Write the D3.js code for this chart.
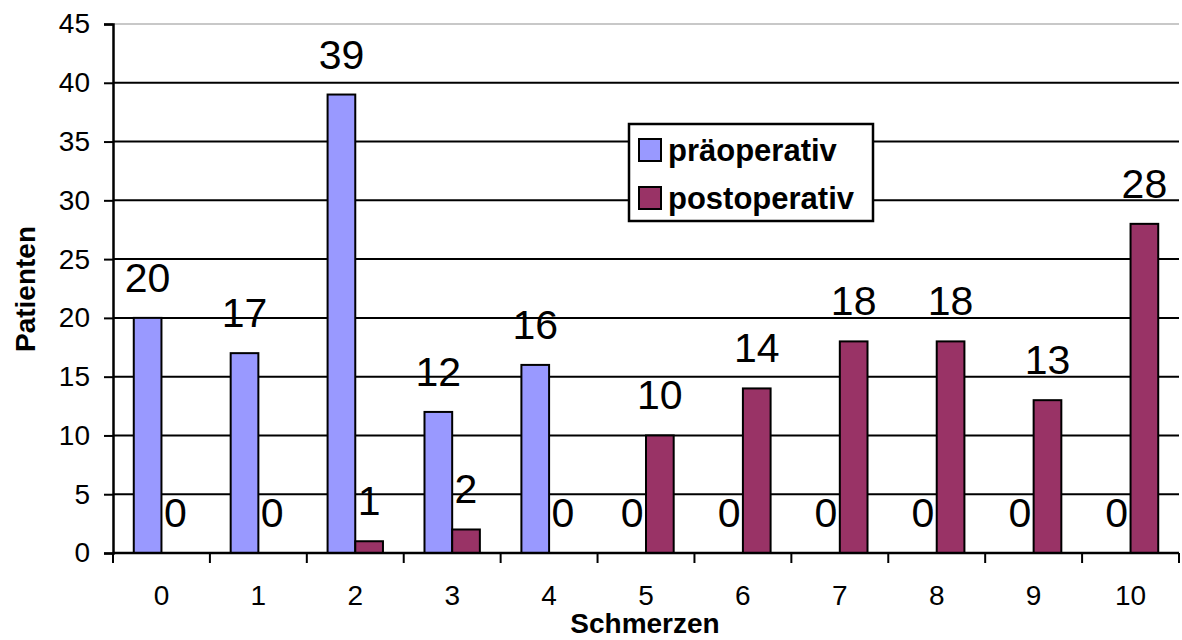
<!DOCTYPE html>
<html>
<head>
<meta charset="utf-8">
<script src="https://cdn.jsdelivr.net/npm/d3@7"></script>
<style>
  html, body { margin: 0; padding: 0; background: #fff; }
  svg { display: block; font-family: "Liberation Sans", Arial, sans-serif; }
</style>
</head>
<body>
<svg id="chart" width="1182" height="640"></svg>
<script>
// Pain score categories and patient counts before / after surgery
const categories = ["0", "1", "2", "3", "4", "5", "6", "7", "8", "9", "10"];
const preValues  = [20, 17, 39, 12, 16, 0, 0, 0, 0, 0, 0];
const postValues = [0, 0, 1, 2, 0, 10, 14, 18, 18, 13, 28];
const seriesNames = ["präoperativ", "postoperativ"];
const seriesColors = ["#9999FF", "#993366"];
const yTicks = [0, 5, 10, 15, 20, 25, 30, 35, 40, 45];

const svg = d3.select("#chart");
const plotLeft = 113, plotRight = 1179, plotTop = 24, plotBottom = 553;

const x = d3.scaleBand().domain(categories).range([plotLeft, plotRight]).paddingInner(0).paddingOuter(0);
const groupW = x.bandwidth() / 1.75;
const xs = d3.scaleBand().domain(seriesNames).range([0, groupW]);
const y = d3.scaleLinear().domain([0, 45]).range([plotBottom, plotTop]);

// horizontal gridlines
svg.append("g").selectAll("line").data(yTicks.filter(d => d > 0)).join("line")
  .attr("x1", plotLeft).attr("x2", plotRight)
  .attr("y1", d => y(d)).attr("y2", d => y(d))
  .attr("stroke", d => d === 45 ? "#c8c8c8" : "#000")
  .attr("stroke-width", 2);

// y axis
const yAxis = svg.append("g").attr("transform", `translate(${plotLeft},0)`)
  .call(d3.axisLeft(y).tickValues(yTicks).tickSize(9).tickPadding(14));
yAxis.select(".domain").attr("stroke", "#000").attr("stroke-width", 2.5);
yAxis.selectAll(".tick line").attr("stroke", "#000").attr("stroke-width", 2);
yAxis.selectAll("text").attr("font-size", 28).attr("fill", "#000")
  .attr("font-family", "'Liberation Sans', Arial, sans-serif");

// bars
const rows = categories.map((c, i) => ({ c, vals: [preValues[i], postValues[i]] }));
const groups = svg.append("g").selectAll("g").data(rows).join("g")
  .attr("transform", d => `translate(${x(d.c) + (x.bandwidth() - groupW) / 2},0)`);

groups.selectAll("rect").data(d => d.vals.map((v, k) => ({ v, k })).filter(e => e.v > 0)).join("rect")
  .attr("x", d => xs(seriesNames[d.k]))
  .attr("width", xs.bandwidth())
  .attr("y", d => y(d.v))
  .attr("height", d => y(0) - y(d.v))
  .attr("fill", d => seriesColors[d.k])
  .attr("stroke", "#000").attr("stroke-width", 2);

// value labels
groups.selectAll("text").data(d => d.vals.map((v, k) => ({ v, k }))).join("text")
  .attr("x", d => xs(seriesNames[d.k]) + xs.bandwidth() / 2)
  .attr("y", d => y(d.v) - 26)
  .attr("text-anchor", "middle")
  .attr("font-size", 41)
  .attr("fill", "#000")
  .text(d => d.v);

// x axis
const xAxis = svg.append("g").attr("transform", `translate(0,${plotBottom})`);
xAxis.append("line").attr("x1", plotLeft).attr("x2", plotRight).attr("stroke", "#000").attr("stroke-width", 2.5);
const boundaries = categories.map(c => x(c)).concat([plotRight]);
xAxis.selectAll("line.tk").data(boundaries).join("line").attr("class", "tk")
  .attr("x1", d => d).attr("x2", d => d).attr("y1", 0).attr("y2", 10)
  .attr("stroke", "#000").attr("stroke-width", 2);
xAxis.selectAll("text").data(categories).join("text")
  .attr("x", d => x(d) + x.bandwidth() / 2)
  .attr("y", 52)
  .attr("text-anchor", "middle")
  .attr("font-size", 28)
  .text(d => d);

// axis titles
svg.append("text").attr("x", 645).attr("y", 633).attr("text-anchor", "middle")
  .attr("font-size", 28).attr("font-weight", "bold").text("Schmerzen");
svg.append("text").attr("transform", "translate(35,289) rotate(-90)").attr("text-anchor", "middle")
  .attr("font-size", 28).attr("font-weight", "bold").text("Patienten");

// legend
const lg = svg.append("g").attr("transform", "translate(629,124)");
lg.append("rect").attr("width", 244).attr("height", 97).attr("fill", "#fff")
  .attr("stroke", "#000").attr("stroke-width", 2.5);
seriesNames.forEach((name, k) => {
  lg.append("rect").attr("x", 10).attr("y", 15 + k * 48).attr("width", 22).attr("height", 22)
    .attr("fill", seriesColors[k]).attr("stroke", "#000").attr("stroke-width", 2);
  lg.append("text").attr("x", 39).attr("y", 37 + k * 48)
    .attr("font-size", 31).attr("font-weight", "bold").text(name);
});
</script>
</body>
</html>
